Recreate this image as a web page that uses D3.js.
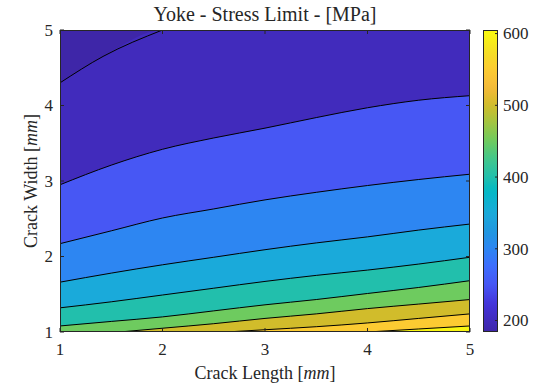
<!DOCTYPE html>
<html>
<head>
<meta charset="utf-8">
<script src="https://cdn.jsdelivr.net/npm/d3@7"></script>
<style>
  body { margin: 0; background: #fff; }
  text { font-family: "Liberation Serif", "Times New Roman", serif; fill: #262626; }
</style>
</head>
<body>
<div id="chart"></div>
<script>
// ─── Daten ────────────────────────────────────────────────────────────────────

// Ticks der Achsen
const lengthTicks = [1, 2, 3, 4, 5];
const widthTicks  = [1, 2, 3, 4, 5];
const stressTicks = [200, 300, 400, 500, 600];

// Wertebereich der Farbskala (min / max der Spannung)
const stressMin = 184;
const stressMax = 605;

// Konturstufen [MPa]
const levels = [200, 250, 300, 350, 400, 450, 500, 550, 600];

// Konturlinien: [Crack Length, Crack Width]
const contour200 = [[1, 4.30], [1.42, 4.65], [2, 5.0]];
const contour250 = [[1, 2.95], [1.5, 3.21], [2, 3.42], [2.5, 3.57], [3, 3.70], [3.5, 3.84], [4, 3.97], [4.5, 4.07], [5, 4.13]];
const contour300 = [[1, 2.17], [1.5, 2.34], [2, 2.51], [2.5, 2.63], [3, 2.75], [3.5, 2.85], [4, 2.94], [4.5, 3.02], [5, 3.09]];
const contour350 = [[1, 1.66], [1.5, 1.78], [2, 1.89], [2.5, 1.99], [3, 2.09], [3.5, 2.18], [4, 2.26], [4.5, 2.35], [5, 2.43]];
const contour400 = [[1, 1.32], [1.5, 1.40], [2, 1.49], [2.5, 1.58], [3, 1.67], [3.5, 1.75], [4, 1.82], [4.5, 1.90], [5, 1.99]];
const contour450 = [[1, 1.08], [1.5, 1.14], [2, 1.20], [2.5, 1.28], [3, 1.36], [3.5, 1.43], [4, 1.51], [4.5, 1.59], [5, 1.68]];
const contour500 = [[1.58, 1.0], [2, 1.05], [2.5, 1.11], [3, 1.18], [3.5, 1.24], [4, 1.31], [4.5, 1.37], [5, 1.43]];
const contour550 = [[2.62, 1.0], [3, 1.03], [3.5, 1.07], [4, 1.12], [4.5, 1.18], [5, 1.24]];
const contour600 = [[4.0, 1.0], [4.5, 1.04], [5, 1.08]];

const contours = [contour200, contour250, contour300, contour350, contour400,
                  contour450, contour500, contour550, contour600];

// ─── Farbskala (parula) ───────────────────────────────────────────────────────

const parulaStops = [
  '#3e26a8', '#4433d8', '#4756f4', '#3d6efd', '#2d86f2', '#2196e0',
  '#1aaada', '#03b9c4', '#22bfac', '#40c68e', '#6ecb5f', '#a8c43e',
  '#d1bc2b', '#f5ba3a', '#fccb32', '#f5df25', '#f9fb0e'
];
const parulaPos = [0, 0.09, 0.155, 0.22, 0.276, 0.33, 0.394, 0.47, 0.513,
                   0.57, 0.632, 0.70, 0.751, 0.81, 0.869, 0.93, 1];

const parula = d3.scaleLinear()
  .domain(parulaPos)
  .range(parulaStops)
  .interpolate(d3.interpolateRgb)
  .clamp(true);

const colorOf = v => parula((v - stressMin) / (stressMax - stressMin));

// ─── Layout ───────────────────────────────────────────────────────────────────

const W = 539, H = 389;
const plot = { left: 60, right: 470, top: 30, bottom: 332 };
const cbar = { left: 483, right: 498 };
const frameColor = '#262626';

const svg = d3.select('#chart')
  .append('svg')
  .attr('width',  W)
  .attr('height', H);

const x = d3.scaleLinear().domain([1, 5]).range([plot.left, plot.right]);
const y = d3.scaleLinear().domain([1, 5]).range([plot.bottom, plot.top]);

svg.append('clipPath')
  .attr('id', 'plot-clip')
  .append('rect')
  .attr('x',      plot.left)
  .attr('y',      plot.top)
  .attr('width',  plot.right - plot.left)
  .attr('height', plot.bottom - plot.top);

const g = svg.append('g').attr('clip-path', 'url(#plot-clip)');

// Grundfläche: Bereich unterhalb der ersten Stufe
g.append('rect')
  .attr('x',      plot.left)
  .attr('y',      plot.top)
  .attr('width',  plot.right - plot.left)
  .attr('height', plot.bottom - plot.top)
  .attr('fill',   colorOf(stressMin));

const area = d3.area()
  .x(d => x(d[0]))
  .y0(y(1))
  .y1(d => y(d[1]))
  .curve(d3.curveMonotoneX);

const line = d3.line()
  .x(d => x(d[0]))
  .y(d => y(d[1]))
  .curve(d3.curveMonotoneX);

// Bänder: alles unterhalb der Konturlinie bekommt die Farbe der Stufe
contours.forEach((pts, i) => {
  const last = pts[pts.length - 1];
  const fillPts = last[0] < 5 ? pts.concat([[5, 5]]) : pts;
  g.append('path')
    .attr('d', area(fillPts))
    .attr('fill', colorOf(levels[i]));
});

contours.forEach(pts => {
  g.append('path')
    .attr('d', line(pts))
    .attr('fill', 'none')
    .attr('stroke', '#000')
    .attr('stroke-width', 1);
});

// ─── Achsen ───────────────────────────────────────────────────────────────────

const tickLen = 4;
const axes = svg.append('g')
  .attr('stroke', frameColor)
  .attr('stroke-width', 1);

lengthTicks.forEach(t => {
  axes.append('line').attr('x1', x(t)).attr('x2', x(t))
    .attr('y1', plot.bottom).attr('y2', plot.bottom - tickLen);
  axes.append('line').attr('x1', x(t)).attr('x2', x(t))
    .attr('y1', plot.top).attr('y2', plot.top + tickLen);
});
widthTicks.forEach(t => {
  axes.append('line').attr('x1', plot.left).attr('x2', plot.left + tickLen)
    .attr('y1', y(t)).attr('y2', y(t));
  axes.append('line').attr('x1', plot.right).attr('x2', plot.right - tickLen)
    .attr('y1', y(t)).attr('y2', y(t));
});

svg.append('rect')
  .attr('x',      plot.left + 0.5)
  .attr('y',      plot.top + 0.5)
  .attr('width',  plot.right - plot.left - 1)
  .attr('height', plot.bottom - plot.top - 1)
  .attr('fill',   'none')
  .attr('stroke', frameColor)
  .attr('stroke-width', 1);

svg.selectAll('.xtick')
  .data(lengthTicks)
  .enter()
  .append('text')
  .attr('class', 'xtick')
  .attr('x', d => x(d))
  .attr('y', 355)
  .attr('text-anchor', 'middle')
  .attr('font-size', 17)
  .text(d => d);

svg.selectAll('.ytick')
  .data(widthTicks)
  .enter()
  .append('text')
  .attr('class', 'ytick')
  .attr('x', 53)
  .attr('y', d => y(d))
  .attr('dy', '0.34em')
  .attr('text-anchor', 'end')
  .attr('font-size', 17)
  .text(d => d);

// Titel und Achsenbeschriftungen
svg.append('text')
  .attr('x', (plot.left + plot.right) / 2)
  .attr('y', 21)
  .attr('text-anchor', 'middle')
  .attr('font-size', 20)
  .text('Yoke - Stress Limit - [MPa]');

const xLabel = svg.append('text')
  .attr('x', (plot.left + plot.right) / 2)
  .attr('y', 379)
  .attr('text-anchor', 'middle')
  .attr('font-size', 18);
xLabel.append('tspan').text('Crack Length [');
xLabel.append('tspan').attr('font-style', 'italic').text('mm');
xLabel.append('tspan').text(']');

const yLabel = svg.append('text')
  .attr('transform', `translate(37, ${(plot.top + plot.bottom) / 2}) rotate(-90)`)
  .attr('text-anchor', 'middle')
  .attr('font-size', 18);
yLabel.append('tspan').text('Crack Width [');
yLabel.append('tspan').attr('font-style', 'italic').text('mm');
yLabel.append('tspan').text(']');

// ─── Colorbar ─────────────────────────────────────────────────────────────────

const c = d3.scaleLinear().domain([stressMin, stressMax]).range([plot.bottom, plot.top]);

const grad = svg.append('defs')
  .append('linearGradient')
  .attr('id', 'parula-grad')
  .attr('x1', 0).attr('y1', 1)
  .attr('x2', 0).attr('y2', 0);

d3.range(0, 1.0001, 0.02).forEach(t => {
  grad.append('stop')
    .attr('offset', t)
    .attr('stop-color', parula(t));
});

svg.append('rect')
  .attr('x',      cbar.left)
  .attr('y',      plot.top)
  .attr('width',  cbar.right - cbar.left)
  .attr('height', plot.bottom - plot.top)
  .attr('fill',   'url(#parula-grad)');

stressTicks.forEach(t => {
  svg.append('line')
    .attr('x1', cbar.right).attr('x2', cbar.right - 3)
    .attr('y1', c(t)).attr('y2', c(t))
    .attr('stroke', frameColor);
});

svg.append('rect')
  .attr('x',      cbar.left + 0.5)
  .attr('y',      plot.top + 0.5)
  .attr('width',  cbar.right - cbar.left - 1)
  .attr('height', plot.bottom - plot.top - 1)
  .attr('fill',   'none')
  .attr('stroke', frameColor);

svg.selectAll('.ctick')
  .data(stressTicks)
  .enter()
  .append('text')
  .attr('class', 'ctick')
  .attr('x', 503)
  .attr('y', d => c(d))
  .attr('dy', '0.34em')
  .attr('font-size', 17)
  .text(d => d);
</script>
</body>
</html>
